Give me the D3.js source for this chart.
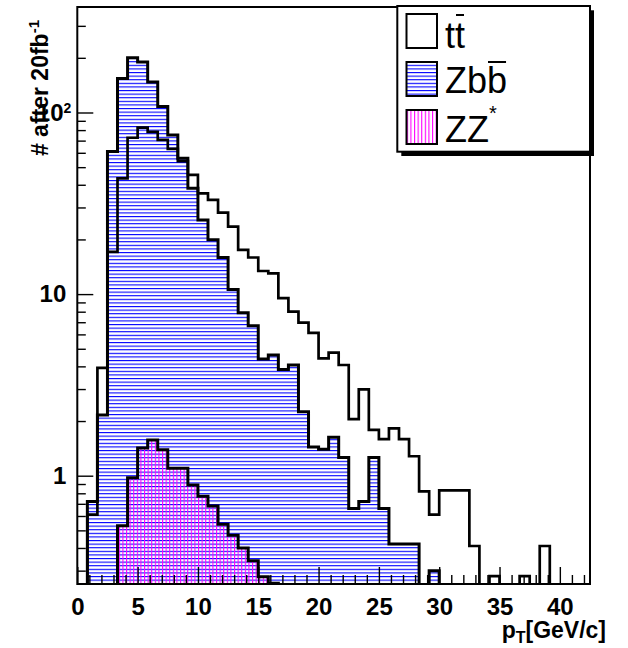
<!DOCTYPE html>
<html><head><meta charset="utf-8">
<script src="https://cdn.jsdelivr.net/npm/d3@7"></script>
<style>body{margin:0;background:#fff} svg{display:block}</style>
</head><body>
<svg id="c" width="628" height="648"></svg>
<script>
// ---------------- data ----------------
const binWidth = 5/6;          // GeV/c per bin
const xMax = 42.5;
const yMin = 0.2533, yMax = 381;
const ttbar = [0,0.61,3.92,17.1,43.4,72.6,82.5,78.3,70.6,63.0,
  54,45.3,35.9,33.0,28.1,23.5,17.5,15.9,13.4,13.0,
  9.5,8.0,6.96,6.12,4.43,4.76,4.07,2.05,2.99,1.79,
  1.59,1.82,1.59,1.28,0.82,0.61,0.83,0.83,0.83,0.41,
  0,0.28,0,0,0.28,0,0.41,0,0,0,0];
const zbb = [0,0.72,2.16,61,154,200,190,147,108,75.2,
  56,38.3,25.6,19.9,15.9,10.6,7.9,6.7,4.39,4.62,
  3.85,4.07,2.25,1.44,1.40,1.63,1.26,0.66,0.72,1.26,
  0.66,0.42,0.42,0.42,0,0.30,0,0,0,0,
  0,0,0,0,0,0,0,0,0,0,0];
const zz = [0,0,0,0,0.53,0.975,1.42,1.57,1.39,1.10,
  1.10,0.89,0.77,0.68,0.54,0.47,0.40,0.34,0.278,0.256,
  0,0,0,0,0,0,0,0,0,0,
  0,0,0,0,0,0,0,0,0,0,
  0,0,0,0,0,0,0,0,0,0,0];
const xMajorTicks = [0,5,10,15,20,25,30,35,40];
const xTickLabels = ["0","5","10","15","20","25","30","35","40"];
const xMinorTicks = d3.range(0,43).filter(v=>v%5!==0);
const yMajorTicks = [1,10,100];
const yTickLabels = ["1","10","10"];
const yMinorTicks = [0.3,0.4,0.5,0.6,0.7,0.8,0.9,2,3,4,5,6,7,8,9,20,30,40,50,60,70,80,90,200,300];
const legendLabels = ["tt","Zbb","ZZ"];

// ---------------- layout ----------------
const L=77.3, R=590, T=7, B=584;
const FONT = "'Liberation Sans', Arial, Helvetica, sans-serif";
const svg = d3.select("#c");
const x = d3.scaleLinear().domain([0,xMax]).range([L,R]);
const y = d3.scaleLog().domain([yMin,yMax]).range([B,T]);
const yv = v => v>0 ? y(Math.max(v,yMin)) : B+4;

const defs = svg.append("defs");
defs.append("clipPath").attr("id","frame").append("rect")
  .attr("x",L).attr("y",T).attr("width",R-L).attr("height",B-T);
const pb = defs.append("pattern").attr("id","hb").attr("patternUnits","userSpaceOnUse")
  .attr("width",10).attr("height",3.6);
pb.append("rect").attr("x",0).attr("y",0).attr("width",10).attr("height",1.1).attr("fill","#0000ff");
const pm = defs.append("pattern").attr("id","hm").attr("patternUnits","userSpaceOnUse")
  .attr("width",3.6).attr("height",10);
pm.append("rect").attr("x",0).attr("y",0).attr("width",1.1).attr("height",10).attr("fill","#ff00ff");

function pts(vals){
  const a = vals.map((v,i)=>({x0:i*binWidth, v}));
  a.push({x0:vals.length*binWidth, v:vals[vals.length-1]});
  return a;
}
const area = d3.area().curve(d3.curveStepAfter).x(d=>x(d.x0)).y0(B+4).y1(d=>yv(d.v));
const line = d3.line().curve(d3.curveStepAfter).x(d=>x(d.x0)).y(d=>yv(d.v));

const g = svg.append("g").attr("clip-path","url(#frame)");
g.append("path").attr("d",area(pts(zbb))).attr("fill","url(#hb)");
g.append("path").attr("d",area(pts(zz))).attr("fill","url(#hm)");
g.append("path").attr("d",line(pts(ttbar))).attr("fill","none").attr("stroke","#000").attr("stroke-width",2.7);
g.append("path").attr("d",line(pts(zbb))).attr("fill","none").attr("stroke","#000").attr("stroke-width",3);
g.append("path").attr("d",line(pts(zz))).attr("fill","none").attr("stroke","#000").attr("stroke-width",3);

// axes
const xa = svg.append("g").attr("transform",`translate(0,${B})`)
  .call(d3.axisBottom(x).tickValues(xMajorTicks).tickSizeInner(-17).tickSizeOuter(0)
    .tickPadding(13.5).tickFormat((d,i)=>xTickLabels[i]));
const xm = svg.append("g").attr("transform",`translate(0,${B})`)
  .call(d3.axisBottom(x).tickValues(xMinorTicks).tickSizeInner(-9).tickSizeOuter(0).tickFormat(""));
const ya = svg.append("g").attr("transform",`translate(${L},0)`)
  .call(d3.axisLeft(y).tickValues(yMajorTicks).tickSizeInner(-16).tickSizeOuter(0)
    .tickPadding(11).tickFormat((d,i)=>yTickLabels[i]));
const ym = svg.append("g").attr("transform",`translate(${L},0)`)
  .call(d3.axisLeft(y).tickValues(yMinorTicks).tickSizeInner(-8.5).tickSizeOuter(0).tickFormat(""));
[xa,xm,ya,ym].forEach(a=>{
  a.select(".domain").remove();
  a.selectAll(".tick line").attr("stroke","#000").attr("stroke-width",1.4);
  a.selectAll("text").attr("fill","#000").style("font-family",FONT)
    .style("font-weight","bold").style("font-size","24px");
});
ya.selectAll(".tick").filter(d=>d===100).select("text")
  .attr("x",-6).append("tspan").attr("dy","-0.55em").style("font-size","14px").text("2");

// frame
svg.append("rect").attr("x",L).attr("y",T).attr("width",R-L).attr("height",B-T)
  .attr("fill","none").attr("stroke","#000").attr("stroke-width",2);

// axis titles
const xt = svg.append("text").attr("x",606).attr("y",638).attr("text-anchor","end")
  .style("font-family",FONT).style("font-weight","bold").style("font-size","23px");
xt.append("tspan").text("p");
xt.append("tspan").attr("dy",5).style("font-size","16px").text("T");
xt.append("tspan").attr("dy",-5).text("[GeV/c]");

const yt = svg.append("text").attr("transform","translate(48,20) rotate(-90)").attr("text-anchor","end")
  .style("font-family",FONT).style("font-weight","bold").style("font-size","23px");
yt.append("tspan").text("# after 20fb");
yt.append("tspan").attr("dy",-9).style("font-size","15px").text("-1");

// legend
const lg = svg.append("g");
lg.append("rect").attr("x",401.3).attr("y",10.3).attr("width",192.7).attr("height",145.7).attr("fill","#000");
lg.append("rect").attr("x",397.3).attr("y",6).attr("width",192.7).attr("height",145.7)
  .attr("fill","#fff").attr("stroke","#000").attr("stroke-width",2);
const fills = ["#fff","url(#hb)","url(#hm)"];
const bases = [47.7,93.3,141.7];
legendLabels.forEach((lab,i)=>{
  lg.append("rect").attr("x",406.5).attr("y",14+48*i).attr("width",30.5).attr("height",34)
    .attr("fill",fills[i]).attr("stroke","#000").attr("stroke-width",2);
  const t = lg.append("text").attr("x",445).attr("y",bases[i])
    .style("font-family",FONT).style("font-size","36px").attr("fill","#000").text(lab);
  const node = t.node();
  if(i===0 || i===1){
    const ci = i===0 ? 1 : 2;
    const ext = node.getExtentOfChar(ci);
    lg.append("line").attr("x1",ext.x+1).attr("x2",ext.x+ext.width-1)
      .attr("y1",i===0?15:62).attr("y2",i===0?15:62).attr("stroke","#000").attr("stroke-width",2);
  }
  if(i===2){
    t.append("tspan").attr("dy",-22).style("font-size","20px").text("*");
  }
});
</script>
</body></html>
